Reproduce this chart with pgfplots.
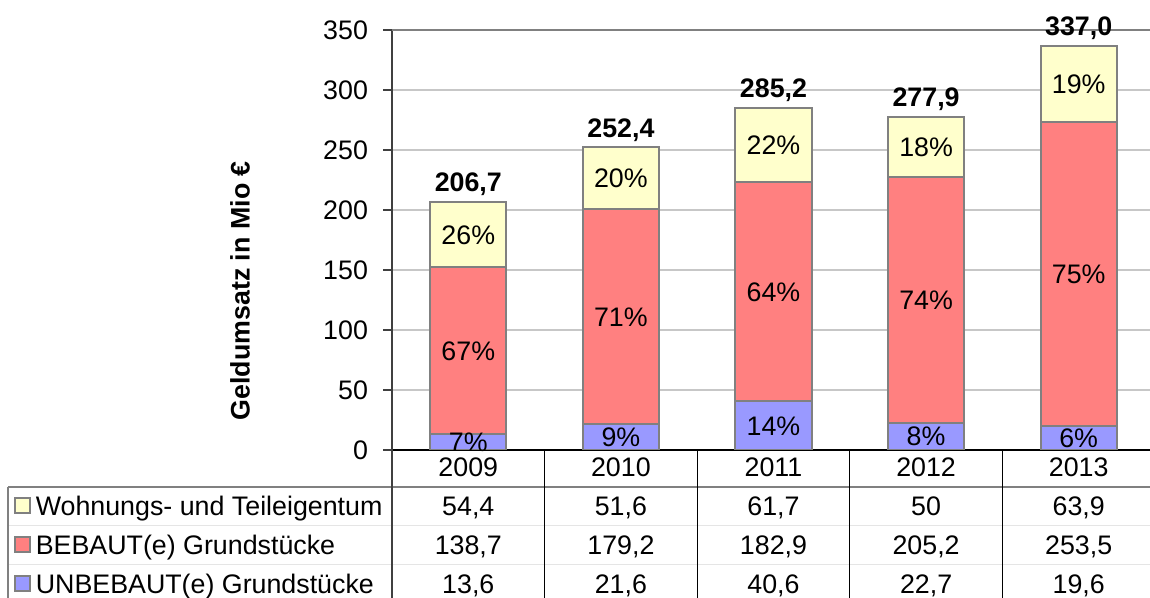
\documentclass[border=0pt]{standalone}
\usepackage{fontspec}
\setmainfont{Liberation Sans}
\usepackage{pgfplots}
\pgfplotsset{compat=1.18}
\usepackage{pgfplotstable}
\definecolor{cU}{HTML}{9999FF}
\definecolor{cB}{HTML}{FF8080}
\definecolor{cW}{HTML}{FFFFCC}
\definecolor{edge}{HTML}{808080}
\newcommand\f{\fontsize{13.4pt}{16pt}\selectfont}

\pgfplotstableread{
x U B W
0 13.6 138.7 54.4
1 21.6 179.2 51.6
2 40.6 182.9 61.7
3 22.7 205.2 50.0
4 19.6 253.5 63.9
}\datatable

\pgfplotstableread{
x y label
0 6.8 7\%
1 10.8 9\%
2 20.3 14\%
3 11.35 8\%
4 9.8 6\%
0 82.95 67\%
1 111.2 71\%
2 132.05 64\%
3 125.3 74\%
4 146.35 75\%
0 179.5 26\%
1 226.6 20\%
2 254.35 22\%
3 252.9 18\%
4 305.05 19\%
}\pcttable

\pgfplotstableread{
x y label
0 206.7 206,7
1 252.4 252,4
2 285.2 285,2
3 277.9 277,9
4 337.0 337,0
}\totaltable

\pgfplotstableread{
x y label
0 -14.2 2009
1 -14.2 2010
2 -14.2 2011
3 -14.2 2012
4 -14.2 2013
0 -46.7 54,4
1 -46.7 51,6
2 -46.7 61,7
3 -46.7 50
4 -46.7 63,9
0 -79.2 138,7
1 -79.2 179,2
2 -79.2 182,9
3 -79.2 205,2
4 -79.2 253,5
0 -111.7 13,6
1 -111.7 21,6
2 -111.7 40,6
3 -111.7 22,7
4 -111.7 19,6
}\celltable

\begin{document}
\begin{tikzpicture}[x=1pt,y=1pt]
\begin{axis}[
  at={(196pt,74pt)}, anchor=south west,
  scale only axis, width=381.5pt, height=210pt,
  xmin=-0.5, xmax=4.5, ymin=0, ymax=350,
  ytick={0,50,...,350}, xtick=\empty,
  ybar stacked, bar width=0.5,
  axis lines=left,
  axis line style={-, line width=1pt},
  y axis line style={color=black!75},
  x axis line style={color=black},
  ymajorgrids, grid style={color=black!22, line width=0.6pt},
  tick align=outside, major tick length=4.5pt,
  tick style={color=black!75, line width=0.6pt},
  yticklabel style={font=\f, xshift=-4pt},
  /pgf/number format/assume math mode=true,
  ylabel={Geldumsatz in Mio €},
  ylabel style={at={(axis description cs:-0.199,0.379)}, anchor=center, font=\f\bfseries},
  legend image code/.code={\draw[#1, line width=1pt] (0pt,-2.45pt) rectangle (7.5pt,5.05pt);},
  reverse legend,
  legend style={at={(axis description cs:-0.4955,-0.1072)}, anchor=north west,
    draw=none, fill=none, inner sep=0pt, row sep=6.5pt, column sep=0pt, font=\f,
    nodes={inner sep=0pt, text height=10pt, text depth=3pt}},
  legend cell align=left,
]
\addplot[fill=cU, draw=edge, line width=1pt] table[x=x, y=U] {\datatable};
\addplot[fill=cB, draw=edge, line width=1pt] table[x=x, y=B] {\datatable};
\addplot[fill=cW, draw=edge, line width=1pt] table[x=x, y=W] {\datatable};
\legend{\,UNBEBAUT(e) Grundstücke, \,BEBAUT(e) Grundstücke, \,Wohnungs- und Teileigentum}
\draw[edge, line width=1pt] (rel axis cs:0,1) -- (rel axis cs:1,1);
\end{axis}
\begin{axis}[
  at={(196pt,74pt)}, anchor=south west,
  scale only axis, width=381.5pt, height=210pt,
  xmin=-0.5, xmax=4.5, ymin=0, ymax=350,
  hide axis, clip=false, no marks,
]
\addplot[draw=none, nodes near coords, point meta=explicit symbolic,
  every node near coord/.append style={anchor=base, yshift=-4.8pt, font=\f, inner sep=0pt}]
  table[x=x, y=y, meta=label] {\pcttable};
\addplot[draw=none, nodes near coords, point meta=explicit symbolic,
  every node near coord/.append style={anchor=base, yshift=5pt, font=\f\bfseries, inner sep=0pt}]
  table[x=x, y=y, meta=label] {\totaltable};
\addplot[draw=none, nodes near coords, point meta=explicit symbolic,
  every node near coord/.append style={anchor=base, yshift=-4.8pt, font=\f, inner sep=0pt}]
  table[x=x, y=y, meta=label] {\celltable};
\end{axis}
% table grid
\draw[black!10, line width=0.5pt] (4,36) -- (577.5,36);
\draw[black!10, line width=0.5pt] (4,16.5) -- (577.5,16.5);
\draw[edge, line width=1pt] (4,55.5) -- (577.5,55.5);
\draw[edge, line width=1pt] (4,55.5) -- (4,0);
\draw[black!75, line width=1pt] (196,74) -- (196,0);
\foreach \xx in {272.3,348.6,424.9,501.2} \draw[black, line width=0.6pt] (\xx,74) -- (\xx,0);
\pgfresetboundingbox
\useasboundingbox (0,0) rectangle (575,299);
\end{tikzpicture}
\end{document}
